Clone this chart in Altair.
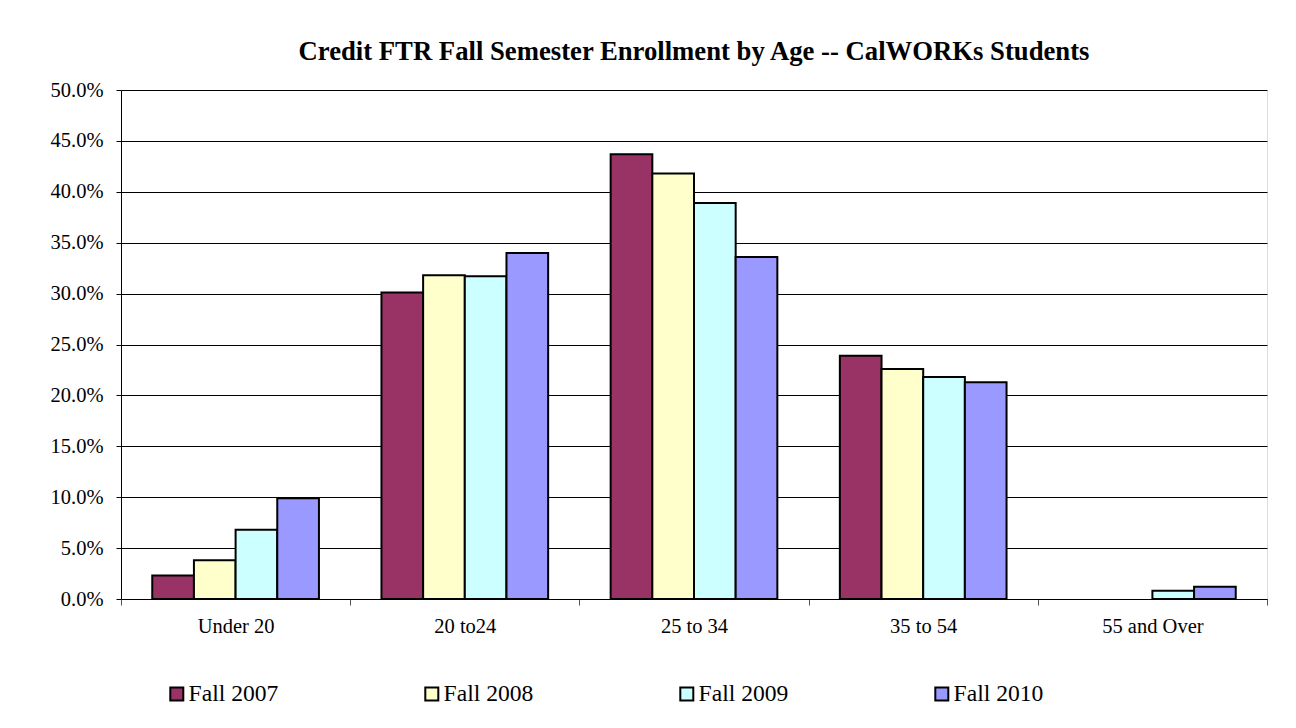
import altair as alt
import pandas as pd

categories = ["Under 20", "20 to24", "25 to 34", "35 to 54", "55 and Over"]
series = ["Fall 2007", "Fall 2008", "Fall 2009", "Fall 2010"]
fall_2007 = [0.023, 0.301, 0.437, 0.239, None]
fall_2008 = [0.038, 0.318, 0.418, 0.226, None]
fall_2009 = [0.068, 0.317, 0.389, 0.218, 0.008]
fall_2010 = [0.099, 0.340, 0.336, 0.213, 0.012]
colors = ["#993366", "#FFFFCC", "#CCFFFF", "#9999FF"]

rows = []
for s, vals in zip(series, [fall_2007, fall_2008, fall_2009, fall_2010]):
    for c, v in zip(categories, vals):
        if v is not None:
            rows.append({"Age": c, "Series": s, "Value": v})
df = pd.DataFrame(rows)

FONT = "Liberation Serif"

chart = alt.Chart(df).mark_bar(stroke="black", strokeWidth=2).encode(
    x=alt.X("Age:N", sort=categories,
            scale=alt.Scale(paddingInner=0, paddingOuter=0),
            axis=alt.Axis(title=None, labelAngle=0, tickBand="extent",
                          tickSize=6, tickColor="#555", domainColor="black",
                          labelFontSize=20.5, labelFont=FONT, labelColor="black",
                          labelPadding=11, grid=False)),
    xOffset=alt.XOffset("Series:N", sort=series,
                        scale=alt.Scale(paddingInner=0, paddingOuter=0.75)),
    y=alt.Y("Value:Q", scale=alt.Scale(domain=[0, 0.5], nice=False),
            axis=alt.Axis(title=None, format=".1%", values=[i * 0.05 for i in range(11)],
                          tickSize=5, tickColor="black", domainColor="black",
                          gridColor="black", gridWidth=1,
                          labelFontSize=20.5, labelFont=FONT, labelColor="black",
                          labelPadding=13)),
    color=alt.Color("Series:N", sort=series,
                    scale=alt.Scale(domain=series, range=colors),
                    legend=alt.Legend(title=None, orient="none", legendX=44, legendY=592,
                                      direction="horizontal", columns=4, gridAlign="all",
                                      columnPadding=141, symbolType="square",
                                      symbolSize=169, symbolStrokeColor="black",
                                      symbolStrokeWidth=2, labelFontSize=23.6,
                                      labelFont=FONT, labelColor="black", labelOffset=0,
                                      padding=0)),
).properties(
    width=1146,
    height=509,
    title=alt.TitleParams("Credit FTR Fall Semester Enrollment by Age -- CalWORKs Students",
                          font=FONT, fontSize=26.7, fontWeight="bold", color="black",
                          anchor="middle", frame="group", offset=14),
    autosize=alt.AutoSizeParams(type="none"),
    padding={"left": 113, "top": 82, "right": 21, "bottom": 113},
).configure_view(stroke="#808080", strokeWidth=1.5).configure(background="white")

chart.save("out.html", embed_options={"renderer": "svg", "actions": False})
